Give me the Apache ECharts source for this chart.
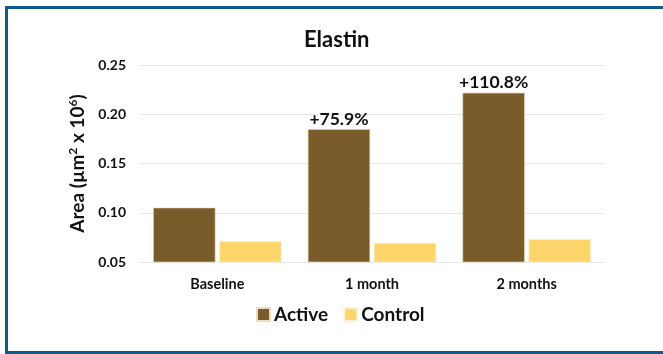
<!DOCTYPE html>
<html>
<head>
<meta charset="utf-8">
<script src="https://cdn.jsdelivr.net/npm/echarts@6/dist/echarts.min.js"></script>
<style>
  html, body { margin: 0; padding: 0; background: #ffffff; }
  #chart { width: 663px; height: 354px; }
</style>
</head>
<body>
<div id="chart"></div>
<script>
// Elastin area by visit, active vs. control
const categories = ['Baseline', '1 month', '2 months'];
const activeValues = [0.1052, 0.1849, 0.2218];
const controlValues = [0.0710, 0.0693, 0.0731];
const activeLabels = ['', '+75.9%', '+110.8%'];
const yTicks = [0.05, 0.10, 0.15, 0.20, 0.25];

const FONT = 'Lato';
const chart = echarts.init(document.getElementById('chart'), null, { renderer: 'canvas' });

chart.setOption({
  backgroundColor: '#ffffff',
  animation: false,
  title: {
    text: 'Elastin',
    left: 299,
    top: 24,
    textStyle: { fontFamily: FONT, fontWeight: 'bold', fontSize: 22, color: '#111111' }
  },
  legend: {
    bottom: 25,
    left: 251,
    itemWidth: 13,
    itemHeight: 13,
    itemGap: 15,
    icon: 'rect',
    textStyle: { fontFamily: FONT, fontWeight: 'bold', fontSize: 19, color: '#111111', padding: [0, 0, 0, -1] },
    data: ['Active', 'Control']
  },
  grid: { left: 140, right: 59, top: 65, bottom: 92, containLabel: false },
  xAxis: {
    type: 'category',
    data: categories,
    axisLine: { show: true, lineStyle: { color: '#e6e6e6' } },
    axisTick: { show: false },
    axisLabel: { fontFamily: FONT, fontWeight: 'bold', fontSize: 14.5, color: '#111111', margin: 15 }
  },
  yAxis: {
    type: 'value',
    min: yTicks[0],
    max: yTicks[yTicks.length - 1],
    interval: 0.05,
    name: '{n|Area (µm}{s|2}{n| x 10}{s|6}{n|)}',
    nameLocation: 'middle',
    nameGap: 42,
    nameTextStyle: {
      rich: {
        n: { fontFamily: FONT, fontWeight: 'bold', fontSize: 19, color: '#111111' },
        s: { fontFamily: FONT, fontWeight: 'bold', fontSize: 12, color: '#111111', verticalAlign: 'top', padding: [0, 0, 9, 0] }
      }
    },
    axisLine: { show: false },
    axisTick: { show: false },
    splitLine: { lineStyle: { color: '#e6e6e6', width: 1 } },
    axisLabel: {
      fontFamily: FONT, fontWeight: 'bold', fontSize: 14, color: '#111111', margin: 14,
      formatter: v => v.toFixed(2)
    }
  },
  series: [
    {
      name: 'Active',
      type: 'bar',
      data: activeValues,
      barGap: '6%',
      barCategoryGap: '17%',
      itemStyle: { color: '#7a5c2a', borderColor: '#e9dcc0', borderWidth: 0.6 },
      label: {
        show: true,
        position: 'top',
        distance: 1,
        formatter: p => activeLabels[p.dataIndex],
        fontFamily: FONT, fontWeight: 'bold', fontSize: 17.5, color: '#111111'
      }
    },
    {
      name: 'Control',
      type: 'bar',
      data: controlValues,
      itemStyle: { color: '#fdd56b', borderColor: '#fff3cf', borderWidth: 0.6 }
    }
  ],
  graphic: [
    {
      type: 'rect',
      silent: true,
      shape: { x: 6.5, y: 7.5, width: 700, height: 345 },
      style: { fill: 'none', stroke: '#0f5a8b', lineWidth: 3 }
    }
  ]
});
</script>
</body>
</html>
